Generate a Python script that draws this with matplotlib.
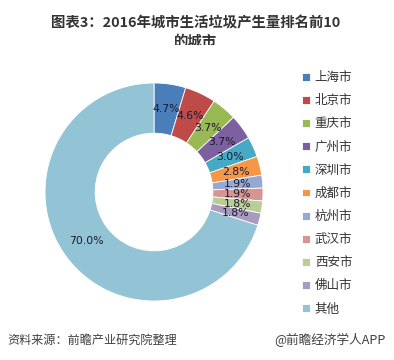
import matplotlib
matplotlib.use("Agg")
import matplotlib.pyplot as plt
from matplotlib.patches import Rectangle
import numpy as np

plt.rcParams['font.family'] = ['Noto Sans CJK SC', 'DejaVu Sans']

cities = ['上海市', '北京市', '重庆市', '广州市', '深圳市', '成都市', '杭州市', '武汉市', '西安市', '佛山市', '其他']
shares = [4.7, 4.6, 3.7, 3.7, 3.0, 2.8, 1.9, 1.9, 1.8, 1.8, 70.0]
colors = ['#4A7EBB', '#BE4B48', '#98B954', '#7D60A0', '#46AAC5', '#F79646',
          '#95AAD3', '#D69593', '#B9CE96', '#A99BBD', '#93C4D5']

fig = plt.figure(figsize=(3.94, 3.6), dpi=100)
fig.patch.set_facecolor('white')

W, H = 394, 360
cx, cy, R = 154, 192, 109
ring = 0.46
ax = fig.add_axes([(cx - R) / W, (H - cy - R) / H, 2 * R / W, 2 * R / H])
wedges, texts = ax.pie(shares, colors=colors, startangle=90, counterclock=False,
                       radius=1.0, wedgeprops=dict(width=ring, edgecolor='white', linewidth=0.6))
ax.set_xlim(-1, 1)
ax.set_ylim(-1, 1)
ax.axis('off')

rmid = 1.0 - ring / 2
ang0 = 90.0
total = sum(shares)
for v in shares:
    mid = ang0 - v / total * 360 / 2
    ang0 -= v / total * 360
    x = rmid * np.cos(np.radians(mid))
    y = rmid * np.sin(np.radians(mid))
    ax.text(x, y, f'{v:.1f}%', ha='center', va='center', fontsize=7.8,
            color='#1a1a2e', family='DejaVu Sans')

# Legend
leg = fig.legend(wedges, cities, loc='upper left', bbox_to_anchor=(291 / W, 1 - 60 / H),
                 frameon=False, fontsize=9, handlelength=0.6, handleheight=0.6,
                 handletextpad=0.4, labelspacing=0.81, labelcolor='#333333')

# Title
fig.text(196 / W, 1 - 23 / H, '图表3：2016年城市生活垃圾产生量排名前10', ha='center', va='center',
         fontsize=10.4, fontweight='bold', color='#333333')
fig.text(196 / W, 1 - 42 / H, '的城市', ha='center', va='center',
         fontsize=10.4, fontweight='bold', color='#333333')
fig.patches.append(Rectangle((0, 1 - 62 / H), 1, 17 / H, transform=fig.transFigure,
                             facecolor='white', edgecolor='none', zorder=5))

# Footer
fig.text(7 / W, 1 - 340 / H, '资料来源：前瞻产业研究院整理', ha='left', va='center',
         fontsize=8.7, style='italic', color='#404040')
fig.text(386 / W, 1 - 340 / H, '@前瞻经济学人APP', ha='right', va='center',
         fontsize=9.1, color='#404040')

fig.savefig('out.png', dpi=100, facecolor='white')
